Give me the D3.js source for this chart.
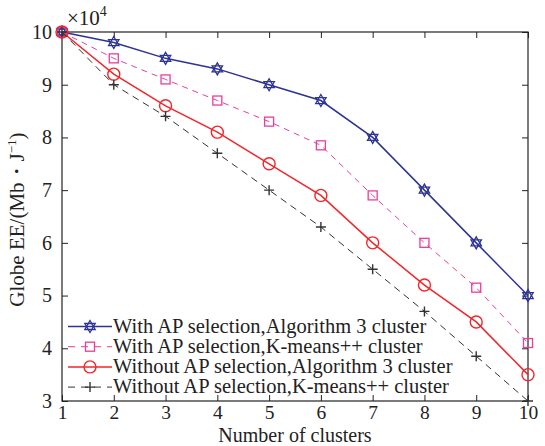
<!DOCTYPE html>
<html><head><meta charset="utf-8">
<script src="https://cdn.jsdelivr.net/npm/d3@7"></script>
<style>body{margin:0;background:#fff}svg{display:block}text{font-family:"Liberation Serif","Times New Roman",serif}</style>
</head><body>
<script>
const clusters = [1,2,3,4,5,6,7,8,9,10];
const withAPAlg3 = [10, 9.8, 9.5, 9.3, 9.0, 8.7, 8.0, 7.0, 6.0, 5.0];
const withAPKmeans = [10, 9.5, 9.1, 8.7, 8.3, 7.85, 6.9, 6.0, 5.15, 4.1];
const withoutAPAlg3 = [10, 9.2, 8.6, 8.1, 7.5, 6.9, 6.0, 5.2, 4.5, 3.5];
const withoutAPKmeans = [10, 9.0, 8.4, 7.7, 7.0, 6.3, 5.5, 4.7, 3.85, 3.0];
const yTicks = [3,4,5,6,7,8,9,10];
const seriesNames = ["With AP selection,Algorithm 3 cluster","With AP selection,K-means++ cluster","Without AP selection,Algorithm 3 cluster","Without AP selection,K-means++ cluster"];

const W=545,H=446;
const m={l:62,r:17,t:32,b:45};
const svg=d3.select("body").append("svg").attr("width",W).attr("height",H);
const x=d3.scaleLinear().domain([1,10]).range([m.l,W-m.r]);
const y=d3.scaleLinear().domain([3,10]).range([H-m.b,m.t]);

const series=[
 {name:seriesNames[0],vals:withAPAlg3,color:"#2c3393",dash:null,marker:"hex"},
 {name:seriesNames[1],vals:withAPKmeans,color:"#e83e9c",dash:"6,5",marker:"square"},
 {name:seriesNames[2],vals:withoutAPAlg3,color:"#f2262a",dash:null,marker:"circle"},
 {name:seriesNames[3],vals:withoutAPKmeans,color:"#333333",dash:"7,5",marker:"plus"}
];

const line=d3.line().x((d,i)=>x(clusters[i])).y(d=>y(d));
function drawMarker(g,type,cx,cy,color){
  if(type==="hex"){
    const r=6;
    const t1=d3.range(3).map(k=>{const a=-Math.PI/2+k*2*Math.PI/3;return [cx+r*Math.cos(a),cy+r*Math.sin(a)];});
    const t2=d3.range(3).map(k=>{const a=Math.PI/2+k*2*Math.PI/3;return [cx+r*Math.cos(a),cy+r*Math.sin(a)];});
    [t1,t2].forEach(t=>g.append("polygon").attr("points",t.map(p=>p.join(",")).join(" ")).attr("fill","none").attr("stroke",color).attr("stroke-width",1.3));
  } else if(type==="square"){
    g.append("rect").attr("x",cx-4.5).attr("y",cy-4.5).attr("width",9).attr("height",9).attr("fill","none").attr("stroke",color).attr("stroke-width",1.3);
  } else if(type==="circle"){
    g.append("circle").attr("cx",cx).attr("cy",cy).attr("r",6).attr("fill","none").attr("stroke",color).attr("stroke-width",1.4);
  } else {
    g.append("path").attr("d",`M${cx-5},${cy}H${cx+5}M${cx},${cy-5}V${cy+5}`).attr("stroke",color).attr("stroke-width",1.4);
  }
}

// axes box
const g=svg.append("g");
g.append("rect").attr("x",m.l).attr("y",m.t).attr("width",W-m.r-m.l).attr("height",H-m.b-m.t).attr("fill","none").attr("stroke","#222").attr("stroke-width",1.2);
const xAx=d3.axisBottom(x).tickValues(clusters).tickSize(-6).tickPadding(4).tickFormat(d3.format("d"));
const xg=svg.append("g").attr("transform",`translate(0,${H-m.b})`).call(xAx);
const xTop=svg.append("g").attr("transform",`translate(0,${m.t})`).call(d3.axisTop(x).tickValues(clusters).tickSize(-6).tickFormat(""));
const yAx=d3.axisLeft(y).tickValues(yTicks).tickSize(-6).tickPadding(10).tickFormat(d3.format("d"));
const yg=svg.append("g").attr("transform",`translate(${m.l},0)`).call(yAx);
const yR=svg.append("g").attr("transform",`translate(${W-m.r},0)`).call(d3.axisRight(y).tickValues(yTicks).tickSize(-6).tickFormat(""));
[xg,xTop,yg,yR].forEach(a=>{a.select(".domain").remove();a.selectAll("line").attr("stroke","#222");a.selectAll("text").attr("font-size",20).attr("fill","#222").style("font-family","Liberation Serif");});
xg.selectAll("text").attr("font-size",19.5);

// series
series.forEach(s=>{
  svg.append("path").datum(s.vals).attr("d",line).attr("fill","none").attr("stroke",s.color).attr("stroke-width",s.dash?1:1.5).attr("stroke-dasharray",s.dash);
  const mg=svg.append("g");
  s.vals.forEach((v,i)=>drawMarker(mg,s.marker,x(clusters[i]),y(v),s.color));
});

// legend (no box, transparent)
const lg=svg.append("g");
const lx=m.l;
series.forEach((s,i)=>{
  const yy=326.5+i*20.2;
  lg.append("line").attr("x1",lx+6).attr("x2",lx+50).attr("y1",yy).attr("y2",yy).attr("stroke",s.color).attr("stroke-width",s.dash?1:1.5).attr("stroke-dasharray",s.dash?"7,6":null);
  drawMarker(lg,s.marker,lx+28,yy,s.color);
  lg.append("text").attr("x",lx+51).attr("y",yy+6).attr("font-size",20.5).attr("fill","#222").text(s.name);
});

// labels
svg.append("text").attr("x",x(5.5)).attr("y",H-4.5).attr("text-anchor","middle").attr("font-size",20).attr("fill","#222").text("Number of clusters");
const yl=svg.append("text").attr("transform",`translate(24,${(m.t+H-m.b)/2+3}) rotate(-90)`).attr("text-anchor","middle").attr("font-size",21).attr("fill","#222");
yl.append("tspan").text("Globe EE/(Mb・J");
yl.append("tspan").attr("dy",-8).attr("font-size",13).text("−1");
yl.append("tspan").attr("dy",8).text(")");
const ex=svg.append("text").attr("x",m.l+5).attr("y",m.t-7).attr("font-size",21).attr("fill","#222");
ex.append("tspan").text("×10");
ex.append("tspan").attr("dy",-9).attr("font-size",14).text("4");
</script>
</body></html>
